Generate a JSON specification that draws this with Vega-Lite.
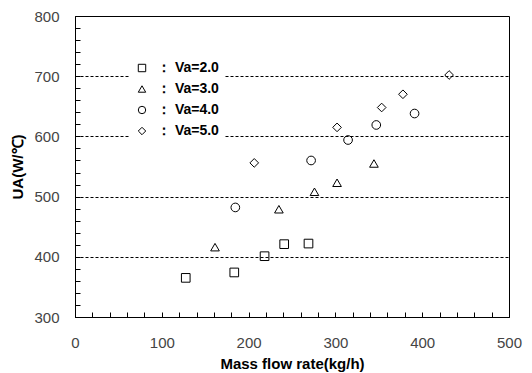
{
  "$schema": "https://vega.github.io/schema/vega-lite/v6.json",
  "width": 434,
  "height": 301,
  "autosize": {"type": "none"},
  "padding": {"left": 75, "top": 16, "right": 23, "bottom": 56},
  "background": "white",
  "config": {
    "view": {"stroke": "#000", "strokeWidth": 1},
    "font": "Liberation Sans"
  },
  "data": {
    "values": [
      {"flow": 127.6, "UA": 365, "Va": "Va=2.0"},
      {"flow": 183.5, "UA": 374, "Va": "Va=2.0"},
      {"flow": 218.4, "UA": 401, "Va": "Va=2.0"},
      {"flow": 241, "UA": 421, "Va": "Va=2.0"},
      {"flow": 269, "UA": 422, "Va": "Va=2.0"},
      {"flow": 161.3, "UA": 416, "Va": "Va=3.0"},
      {"flow": 234.9, "UA": 479, "Va": "Va=3.0"},
      {"flow": 275.9, "UA": 508, "Va": "Va=3.0"},
      {"flow": 301.9, "UA": 523, "Va": "Va=3.0"},
      {"flow": 344.4, "UA": 555, "Va": "Va=3.0"},
      {"flow": 184.7, "UA": 482, "Va": "Va=4.0"},
      {"flow": 272, "UA": 560, "Va": "Va=4.0"},
      {"flow": 314.6, "UA": 594, "Va": "Va=4.0"},
      {"flow": 347.1, "UA": 619, "Va": "Va=4.0"},
      {"flow": 391.2, "UA": 638, "Va": "Va=4.0"},
      {"flow": 206.5, "UA": 556, "Va": "Va=5.0"},
      {"flow": 301.9, "UA": 615, "Va": "Va=5.0"},
      {"flow": 353.3, "UA": 648, "Va": "Va=5.0"},
      {"flow": 377.8, "UA": 670, "Va": "Va=5.0"},
      {"flow": 431, "UA": 702, "Va": "Va=5.0"}
    ]
  },
  "mark": {"type": "point", "filled": false, "stroke": "#000", "strokeWidth": 1, "size": 75, "opacity": 1},
  "encoding": {
    "x": {
      "field": "flow",
      "type": "quantitative",
      "scale": {"domain": [0, 500], "nice": false, "zero": false},
      "axis": {
        "title": "Mass flow rate(kg/h)",
        "titleFont": "Liberation Sans",
        "titleFontSize": 15,
        "titleFontWeight": "bold",
        "titleColor": "#000",
        "values": [0,20,40,60,80,100,120,140,160,180,200,220,240,260,280,300,320,340,360,380,400,420,440,460,480,500],
        "labelExpr": "datum.value % 100 === 0 ? datum.label : ''",
        "labelFontSize": 15,
        "labelColor": "#444",
        "labelPadding": 23,
        "labelFlush": false,
        "labelOverlap": false,
        "tickSize": -5,
        "tickColor": "#000",
        "domainColor": "#000",
        "grid": false,
        "titlePadding": 6
      }
    },
    "y": {
      "field": "UA",
      "type": "quantitative",
      "scale": {"domain": [300, 800], "nice": false, "zero": false},
      "axis": {
        "title": "UA(W/℃)",
        "titleFont": "Liberation Sans",
        "titleFontSize": 15,
        "titleFontWeight": "bold",
        "titleColor": "#000",
        "values": [300,320,340,360,380,400,420,440,460,480,500,520,540,560,580,600,620,640,660,680,700,720,740,760,780,800],
        "labelExpr": "datum.value % 100 === 0 ? datum.label : ''",
        "labelFontSize": 15,
        "labelColor": "#444",
        "labelPadding": 21,
        "labelFlush": false,
        "labelOverlap": false,
        "tickSize": -5,
        "tickColor": "#000",
        "domainColor": "#000",
        "grid": true,
        "gridColor": "#000",
        "gridDash": [3, 2],
        "gridWidth": 1,
        "gridOpacity": {"condition": {"test": "datum.value % 100 === 0 && datum.value > 300 && datum.value < 800", "value": 1}, "value": 0},
        "titlePadding": 8
      }
    },
    "shape": {
      "field": "Va",
      "type": "nominal",
      "scale": {"domain": ["Va=2.0", "Va=3.0", "Va=4.0", "Va=5.0"], "range": ["square", "triangle-up", "circle", "diamond"]},
      "legend": {
        "title": null,
        "orient": "none",
        "legendX": 55,
        "legendY": 40,
        "fillColor": "white",
        "padding": 5,
        "symbolSize": 55,
        "symbolStrokeColor": "#000",
        "symbolFillColor": "white",
        "symbolStrokeWidth": 1,
        "labelFont": "Liberation Sans",
        "labelFontSize": 14,
        "labelFontWeight": "bold",
        "labelColor": "#000",
        "labelOffset": 8,
        "rowPadding": 7,
        "labelExpr": "'\uFF1A Va=' + slice(datum.label, 3)"
      }
    }
  }
}
